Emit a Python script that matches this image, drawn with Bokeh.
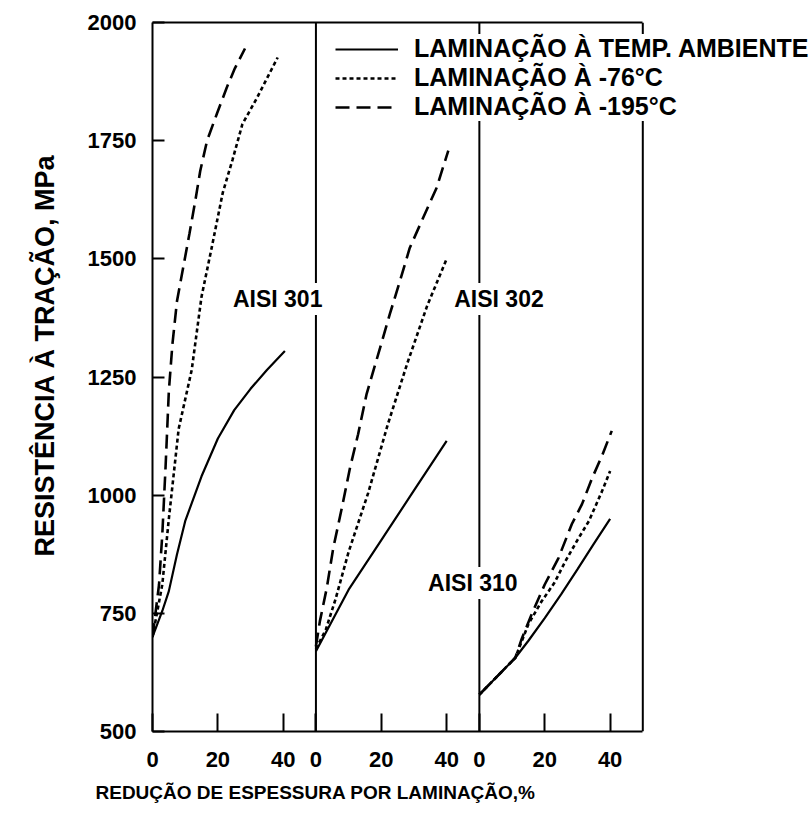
from bokeh.embed import file_html
from bokeh.models import FixedTicker, Label, Legend, LegendItem, LinearAxis, Range1d, Span, Title
from bokeh.plotting import figure
from bokeh.resources import INLINE

# Redução de espessura (%) vs. resistência à tração (MPa)
aisi301_amb_x = [0, 3, 5, 7.5, 10, 15, 20, 25, 30, 35, 40.5]
aisi301_amb_y = [700, 755, 797, 875, 945, 1040, 1120, 1180, 1225, 1265, 1305]
aisi301_m76_x = [0, 3, 5, 8, 12, 15, 18, 21.5, 24.5, 27.5, 32, 38.3]
aisi301_m76_y = [700, 811, 950, 1140, 1265, 1420, 1520, 1640, 1710, 1785, 1841, 1926]
aisi301_m195_x = [0, 2, 3, 4, 5, 6.1, 7.5, 11.3, 13.1, 14.6, 16.7, 19.7, 22.7, 25.2, 28.3]
aisi301_m195_y = [700, 811, 917, 1060, 1220, 1320, 1411, 1553, 1623, 1686, 1750, 1807, 1862, 1903, 1945]

aisi302_amb_x = [0, 10, 20, 30, 40]
aisi302_amb_y = [670, 800, 905, 1010, 1115]
aisi302_m76_x = [0, 3, 6, 10, 16, 22, 28, 34, 40]
aisi302_m76_y = [675, 715, 780, 880, 1005, 1150, 1280, 1400, 1500]
aisi302_m195_x = [0, 1.2, 3.3, 5.3, 7.9, 10.4, 12.9, 15.5, 19.6, 22.6, 25.7, 28.7, 32.8, 36.9, 40.5]
aisi302_m195_y = [680, 733, 803, 888, 972, 1057, 1129, 1214, 1311, 1383, 1453, 1523, 1587, 1650, 1729]

aisi310_amb_x = [0, 11, 15, 20, 25, 30, 35, 40]
aisi310_amb_y = [578, 656, 692, 740, 790, 843, 897, 950]
aisi310_m76_x = [0, 11, 15, 19, 23, 26.3, 30, 33.5, 37.5, 40]
aisi310_m76_y = [578, 656, 727, 775, 815, 860, 905, 945, 1008, 1051]
aisi310_m195_x = [0, 11, 13, 16, 20, 24.2, 28.3, 31.4, 34.5, 37.5, 40.5]
aisi310_m195_y = [578, 656, 697, 748, 811, 867, 939, 981, 1036, 1083, 1136]

conditions = ["LAMINAÇÃO À TEMP. AMBIENTE", "LAMINAÇÃO À -76°C", "LAMINAÇÃO À -195°C"]
alloys = ["AISI 301", "AISI 302", "AISI 310"]
y_ticks = [500, 750, 1000, 1250, 1500, 1750, 2000]
x_tick_labels = [0, 20, 40]

PANEL = 50      # width of each sub-panel on the shared x scale
X_END = 201     # frame runs on past the last panel so the legend has room
FONT = "Liberation Sans"

p = figure(width=809, height=814, x_range=Range1d(0, X_END), y_range=Range1d(500, 2000),
           output_backend="svg", toolbar_location=None,
           min_border_left=152, min_border_right=0, min_border_top=22, min_border_bottom=83)
p.extra_x_ranges = {
    "p302": Range1d(-PANEL, X_END - PANEL),
    "p310": Range1d(-2 * PANEL, X_END - 2 * PANEL),
}
p.xgrid.visible = False
p.ygrid.visible = False
p.outline_line_color = None
p.background_fill_color = "white"
p.border_fill_color = "white"

# axes
for ax in (p.xaxis[0], p.yaxis[0]):
    ax.axis_line_width = 2
    ax.axis_line_color = "black"
    ax.major_tick_line_width = 2
    ax.major_tick_out = 0
    ax.minor_tick_in = 0
    ax.minor_tick_out = 0
    ax.major_label_text_font = FONT
    ax.major_label_text_font_style = "bold"
    ax.major_label_text_font_size = "22px"
    ax.major_label_text_color = "black"

p.yaxis.ticker = FixedTicker(ticks=y_ticks)
p.yaxis.major_tick_in = 12
p.yaxis.major_label_standoff = 16

x_tick_pos = [i * PANEL + t for i in range(3) for t in x_tick_labels]
p.xaxis.ticker = FixedTicker(ticks=x_tick_pos)
p.xaxis.major_label_overrides = {i * PANEL + t: str(t) for i in range(3) for t in x_tick_labels}
p.xaxis.major_tick_in = 18
p.xaxis.major_label_standoff = 20
p.xaxis.bounds = (0, 3 * PANEL)

# top edge of the box
top = LinearAxis(ticker=FixedTicker(ticks=[]), bounds=(0, 3 * PANEL), axis_line_width=2,
                 axis_line_color="black", major_tick_in=0, major_tick_out=0,
                 minor_tick_in=0, minor_tick_out=0)
p.add_layout(top, "above")

# panel dividers and right edge
for loc in (PANEL, 2 * PANEL, 3 * PANEL):
    p.add_layout(Span(location=loc, dimension="height", line_color="black", line_width=2))

styles = [dict(line_dash="solid", line_width=2.2),
          dict(line_dash="4 3", line_width=2.6),
          dict(line_dash="14 7", line_width=2.6)]

series = [
    (None, [(aisi301_amb_x, aisi301_amb_y), (aisi301_m76_x, aisi301_m76_y), (aisi301_m195_x, aisi301_m195_y)]),
    ("p302", [(aisi302_amb_x, aisi302_amb_y), (aisi302_m76_x, aisi302_m76_y), (aisi302_m195_x, aisi302_m195_y)]),
    ("p310", [(aisi310_amb_x, aisi310_amb_y), (aisi310_m76_x, aisi310_m76_y), (aisi310_m195_x, aisi310_m195_y)]),
]

legend_renderers = []
for rng, curves in series:
    for k, (xs, ys) in enumerate(curves):
        kw = dict(line_color="black", **styles[k])
        if rng:
            kw["x_range_name"] = rng
        r = p.line(xs, ys, **kw)
        if rng is None:
            legend_renderers.append(r)

# alloy labels
label_pos = [(38.3, 1415), (106, 1415), (98, 814)]
for name, (lx, ly) in zip(alloys, label_pos):
    p.add_layout(Label(x=lx, y=ly, text=name, text_align="center", text_baseline="middle",
                       text_font=FONT, text_font_style="bold", text_font_size="23px",
                       text_color="black", background_fill_color="white", padding=3))

# axis titles
p.add_layout(Title(text="RESISTÊNCIA À TRAÇÃO, MPa", align="left", offset=175,
                   text_font=FONT, text_font_style="bold", text_font_size="27px",
                   text_color="black", standoff=50), "left")
p.add_layout(Title(text="REDUÇÃO DE ESPESSURA POR LAMINAÇÃO,%", align="left", offset=-57,
                   text_font=FONT, text_font_style="bold", text_font_size="19px",
                   text_color="black", standoff=20), "below")

legend = Legend(
    items=[LegendItem(label=c, renderers=[r]) for c, r in zip(conditions, legend_renderers)],
    location=(183, 610), orientation="vertical",
    background_fill_color="white", background_fill_alpha=1, border_line_color=None,
    label_text_font=FONT, label_text_font_style="bold", label_text_font_size="25px",
    label_text_color="black", glyph_width=63, glyph_height=20, label_height=20,
    label_standoff=16, spacing=0, padding=8, margin=0,
)
p.add_layout(legend)

open("out.html", "w").write(file_html(p, INLINE))
